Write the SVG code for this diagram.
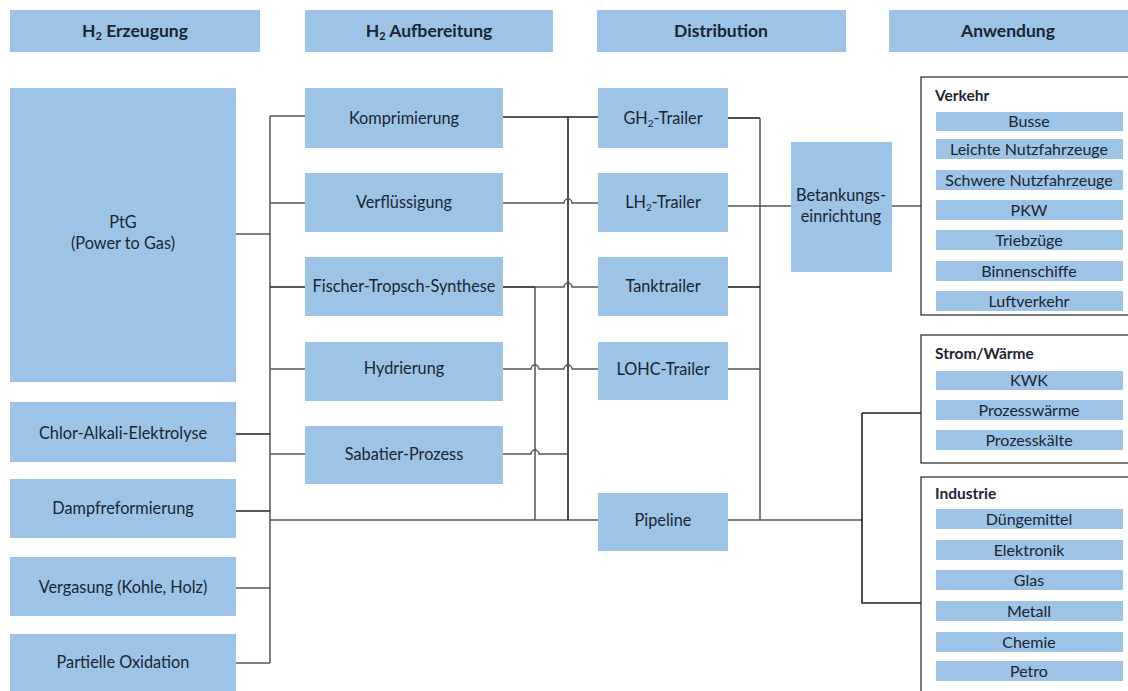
<svg xmlns="http://www.w3.org/2000/svg" width="1128" height="691" viewBox="0 0 1128 691">
<style>
.b{fill:#9DC3E6}
.t{font-family:Lato,"Liberation Sans",sans-serif;font-size:16.3px;fill:#1c2533;text-anchor:middle}
.h{font-family:Lato,"Liberation Sans",sans-serif;font-size:17.5px;font-weight:bold;fill:#1c2533;text-anchor:middle}
.i{font-family:Lato,"Liberation Sans",sans-serif;font-size:16px;fill:#1c2533;text-anchor:middle}
.g{font-family:Lato,"Liberation Sans",sans-serif;font-size:15.5px;font-weight:bold;fill:#1c2533}
.frame{fill:#fff;stroke:#333;stroke-width:1.3}
.c{fill:none;stroke:#555;stroke-width:1.5}
.d{fill:none;stroke:#222;stroke-width:1.6}
</style>
<rect width="1128" height="691" fill="#fff"/>
<g id="headers">
<rect class="b" x="10" y="10" width="250" height="42"/>
<text class="h" x="135" y="37">H<tspan font-size="11" dy="3">2</tspan><tspan dy="-3"> Erzeugung</tspan></text>
<rect class="b" x="305" y="10" width="248" height="42"/>
<text class="h" x="429" y="37">H<tspan font-size="11" dy="3">2</tspan><tspan dy="-3"> Aufbereitung</tspan></text>
<rect class="b" x="597" y="10" width="249" height="42"/>
<text class="h" x="721" y="37">Distribution</text>
<rect class="b" x="889" y="10" width="239" height="42"/>
<text class="h" x="1008" y="37">Anwendung</text>
</g>
<g id="connectors">
<path class="c" d="M270,116 V663"/>
<path class="c" d="M236,234 H270"/>
<path class="d" d="M236,434 H270"/>
<path class="d" d="M236,511 H270"/>
<path class="c" d="M236,588 H270"/>
<path class="c" d="M236,663 H270"/>
<path class="c" d="M270,116 H305"/>
<path class="c" d="M270,203 H305"/>
<path class="d" d="M270,287 H305"/>
<path class="c" d="M270,369 H305"/>
<path class="c" d="M270,454 H305"/>
<path class="c" d="M270,520 H598"/>
<path class="d" d="M503,117 H598"/>
<path class="d" d="M568,117 V520"/>
<path class="c" d="M535,287 V520"/>
<path class="c" d="M503,203 H564 a4,4 0 0 1 8,0 H598"/>
<path class="d" d="M503,287 H535"/>
<path class="c" d="M535,287 H564 a4,4 0 0 1 8,0 H598"/>
<path class="c" d="M503,369 H531 a4,4 0 0 1 8,0 H564 a4,4 0 0 1 8,0 H598"/>
<path class="c" d="M503,454 H531 a4,4 0 0 1 8,0 H568"/>
<path class="d" d="M728,118 H760"/>
<path class="c" d="M760,118 V520"/>
<path class="c" d="M728,206 H791"/>
<path class="d" d="M728,287 H760"/>
<path class="c" d="M728,369 H760"/>
<path class="c" d="M728,520 H862"/>
<path class="c" d="M892,206 H921"/>
<path class="d" d="M862,413 V603 H921"/>
<path class="d" d="M862,413 H921"/>
</g>
<g id="ptg"><rect class="b" x="10" y="88" width="226" height="294"/><text class="t" x="123" y="228">PtG</text><text class="t" x="123" y="249">(Power to Gas)</text></g>
<g id="chlor"><rect class="b" x="10" y="402" width="226" height="60"/><text class="t" x="123" y="439">Chlor-Alkali-Elektrolyse</text></g>
<g id="dampf"><rect class="b" x="10" y="479" width="226" height="59"/><text class="t" x="123" y="514">Dampfreformierung</text></g>
<g id="vergasung"><rect class="b" x="10" y="557" width="226" height="59"/><text class="t" x="123" y="593">Vergasung (Kohle, Holz)</text></g>
<g id="partielle"><rect class="b" x="10" y="634" width="226" height="57"/><text class="t" x="123" y="668">Partielle Oxidation</text></g>
<g id="kompr"><rect class="b" x="305" y="88" width="198" height="60"/><text class="t" x="404" y="124">Komprimierung</text></g>
<g id="verfl"><rect class="b" x="305" y="173" width="198" height="59"/><text class="t" x="404" y="208">Verflüssigung</text></g>
<g id="ft"><rect class="b" x="305" y="257" width="198" height="59"/><text class="t" x="404" y="292">Fischer-Tropsch-Synthese</text></g>
<g id="hydr"><rect class="b" x="305" y="342" width="198" height="59"/><text class="t" x="404" y="374">Hydrierung</text></g>
<g id="sabatier"><rect class="b" x="305" y="426" width="198" height="58"/><text class="t" x="404" y="460">Sabatier-Prozess</text></g>
<g id="gh2"><rect class="b" x="598" y="88" width="130" height="60"/><text class="t" x="663" y="124">GH<tspan font-size="10" dy="3">2</tspan><tspan dy="-3">-Trailer</tspan></text></g>
<g id="lh2"><rect class="b" x="598" y="173" width="130" height="59"/><text class="t" x="663" y="208">LH<tspan font-size="10" dy="3">2</tspan><tspan dy="-3">-Trailer</tspan></text></g>
<g id="tank"><rect class="b" x="598" y="257" width="130" height="59"/><text class="t" x="663" y="292">Tanktrailer</text></g>
<g id="lohc"><rect class="b" x="598" y="342" width="130" height="58"/><text class="t" x="663" y="375">LOHC-Trailer</text></g>
<g id="pipeline"><rect class="b" x="598" y="493" width="130" height="58"/><text class="t" x="663" y="526">Pipeline</text></g>
<g id="betankung"><rect class="b" x="791" y="142" width="101" height="130"/><text class="t" x="841" y="201">Betankungs-</text><text class="t" x="841" y="222">einrichtung</text></g>
<g id="verkehr">
<rect class="frame" x="921" y="77" width="212" height="238"/>
<text class="g" x="935" y="101">Verkehr</text>
<rect class="b" x="936" y="112" width="187" height="19"/><text class="i" x="1029" y="127">Busse</text>
<rect class="b" x="936" y="139" width="187" height="20"/><text class="i" x="1029" y="155">Leichte Nutzfahrzeuge</text>
<rect class="b" x="936" y="170" width="187" height="20"/><text class="i" x="1029" y="186">Schwere Nutzfahrzeuge</text>
<rect class="b" x="936" y="200" width="187" height="20"/><text class="i" x="1029" y="216">PKW</text>
<rect class="b" x="936" y="230" width="187" height="20"/><text class="i" x="1029" y="246">Triebzüge</text>
<rect class="b" x="936" y="261" width="187" height="20"/><text class="i" x="1029" y="277">Binnenschiffe</text>
<rect class="b" x="936" y="291" width="187" height="20"/><text class="i" x="1029" y="307">Luftverkehr</text>
</g>
<g id="strom">
<rect class="frame" x="921" y="335" width="212" height="128"/>
<text class="g" x="935" y="359">Strom/Wärme</text>
<rect class="b" x="936" y="371" width="187" height="19"/><text class="i" x="1029" y="386">KWK</text>
<rect class="b" x="936" y="400" width="187" height="20"/><text class="i" x="1029" y="416">Prozesswärme</text>
<rect class="b" x="936" y="430" width="187" height="20"/><text class="i" x="1029" y="446">Prozesskälte</text>
</g>
<g id="industrie">
<rect class="frame" x="921" y="477" width="212" height="220"/>
<text class="g" x="935" y="499">Industrie</text>
<rect class="b" x="936" y="509" width="187" height="20"/><text class="i" x="1029" y="525">Düngemittel</text>
<rect class="b" x="936" y="540" width="187" height="20"/><text class="i" x="1029" y="556">Elektronik</text>
<rect class="b" x="936" y="570" width="187" height="20"/><text class="i" x="1029" y="586">Glas</text>
<rect class="b" x="936" y="601" width="187" height="20"/><text class="i" x="1029" y="617">Metall</text>
<rect class="b" x="936" y="632" width="187" height="20"/><text class="i" x="1029" y="648">Chemie</text>
<rect class="b" x="936" y="661" width="187" height="20"/><text class="i" x="1029" y="677">Petro</text>
</g>
</svg>
